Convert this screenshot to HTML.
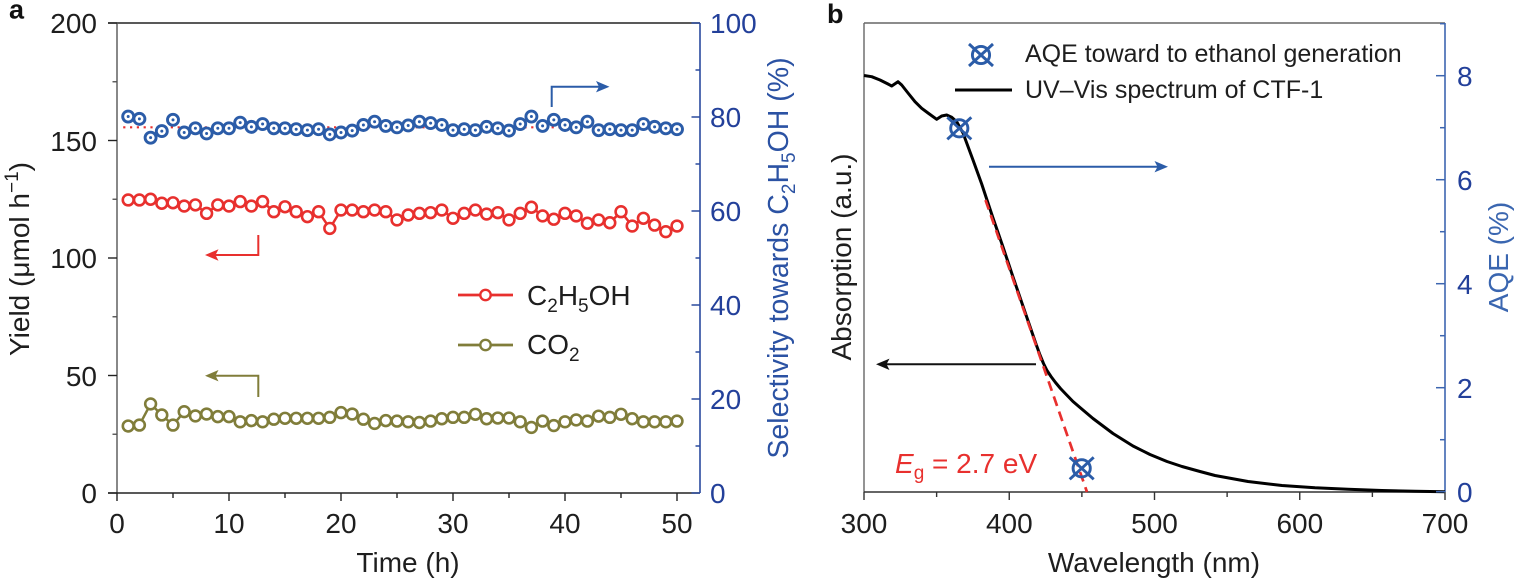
<!DOCTYPE html>
<html><head><meta charset="utf-8">
<style>
html,body{margin:0;padding:0;background:#fff;}
svg{display:block;}
text{font-family:"Liberation Sans",Arial,sans-serif;}
</style></head><body>
<svg id="s" width="1515" height="579" viewBox="0 0 1515 579" xmlns="http://www.w3.org/2000/svg">
<rect x="0" y="0" width="1515" height="579" fill="#fff"/>
<!-- panel labels -->
<text x="9" y="18.5" font-size="27" font-weight="bold" fill="#111">a</text>
<text x="827" y="23" font-size="27" font-weight="bold" fill="#111">b</text>

<!-- ===== PANEL A axes ===== -->
<g id="axA" fill="none" stroke-width="1.4">
<line x1="108" y1="23" x2="700" y2="23" stroke="#222"/>
<line x1="117" y1="23" x2="117" y2="493" stroke="#555"/>
<line x1="108" y1="493" x2="700" y2="493" stroke="#222"/>
<line x1="700" y1="23" x2="700" y2="493" stroke="#2a4a9e" stroke-width="1.6"/>
</g>
<g font-size="28" fill="#1e1e1e" text-anchor="end">
<text x="97" y="33">200</text>
<text x="97" y="151">150</text>
<text x="97" y="268">100</text>
<text x="97" y="386">50</text>
<text x="97" y="503">0</text>
</g>
<g font-size="28" fill="#1e1e1e" text-anchor="middle">
<text x="117" y="533">0</text>
<text x="229" y="533">10</text>
<text x="341" y="533">20</text>
<text x="453" y="533">30</text>
<text x="565" y="533">40</text>
<text x="677" y="533">50</text>
</g>
<g font-size="28" fill="#23409a">
<text x="710" y="33">100</text>
<text x="710" y="127">80</text>
<text x="710" y="221">60</text>
<text x="710" y="315">40</text>
<text x="710" y="409">20</text>
<text x="710" y="503">0</text>
</g>
<text x="408" y="572" font-size="28" fill="#1e1e1e" text-anchor="middle">Time (h)</text>
<text transform="translate(29,259) rotate(-90)" font-size="28" fill="#1e1e1e" text-anchor="middle">Yield (μmol h<tspan font-size="19" dy="-11">−1</tspan><tspan dy="11">)</tspan></text>
<text transform="translate(788,258) rotate(-90)" font-size="28.5" fill="#2b52a3" text-anchor="middle">Selectivity towards C<tspan font-size="19" dy="7">2</tspan><tspan dy="-7">H</tspan><tspan font-size="19" dy="7">5</tspan><tspan dy="-7">OH (%)</tspan></text>

<!-- arrows panel a -->
<path d="M551.7,107 V86.7 H599" fill="none" stroke="#2b5ca8" stroke-width="2"/>
<path d="M609.5,86.7 L596,81 L599,86.7 L596,92.4 Z" fill="#2b5ca8"/>
<path d="M258.3,235 V255 H215" fill="none" stroke="#e8302e" stroke-width="2"/>
<path d="M205,255 L218.5,249.3 L215.5,255 L218.5,260.7 Z" fill="#e8302e"/>
<path d="M258.3,397 V375.7 H215" fill="none" stroke="#807d3a" stroke-width="2"/>
<path d="M205,375.7 L218.5,370 L215.5,375.7 L218.5,381.4 Z" fill="#807d3a"/>

<!-- legend panel a -->
<line x1="458" y1="295" x2="513" y2="295" stroke="#e8302e" stroke-width="2.7"/>
<circle cx="485.5" cy="295" r="5.2" fill="#fff" stroke="#e8302e" stroke-width="2.4"/>
<text x="527" y="305" font-size="28" fill="#1e1e1e">C<tspan font-size="19" dy="7">2</tspan><tspan dy="-7">H</tspan><tspan font-size="19" dy="7">5</tspan><tspan dy="-7">OH</tspan></text>
<line x1="458" y1="345" x2="513" y2="345" stroke="#807d3a" stroke-width="2.7"/>
<circle cx="485.5" cy="345" r="5.2" fill="#fff" stroke="#807d3a" stroke-width="2.4"/>
<text x="527" y="354" font-size="28" fill="#1e1e1e">CO<tspan font-size="19" dy="7">2</tspan></text>

<g id="dataA"></g>

<!-- ===== PANEL B axes ===== -->
<g fill="none" stroke-width="1.4">
<line x1="864" y1="23" x2="1445" y2="23" stroke="#666"/>
<line x1="864" y1="23" x2="864" y2="492" stroke="#666"/>
<line x1="864" y1="492" x2="1445" y2="492" stroke="#333"/>
<line x1="1445" y1="23" x2="1445" y2="492" stroke="#3d66b0" stroke-width="1.6"/>
</g>
<g font-size="28" fill="#1e1e1e" text-anchor="middle">
<text x="864" y="533">300</text>
<text x="1009.3" y="533">400</text>
<text x="1154.5" y="533">500</text>
<text x="1299.8" y="533">600</text>
<text x="1445" y="533">700</text>
</g>
<g font-size="28" fill="#23409a">
<text x="1457" y="502">0</text>
<text x="1457" y="398">2</text>
<text x="1457" y="294">4</text>
<text x="1457" y="190">6</text>
<text x="1457" y="86">8</text>
</g>
<text x="1154" y="572" font-size="28" fill="#1e1e1e" text-anchor="middle">Wavelength (nm)</text>
<text transform="translate(851,257) rotate(-90)" font-size="28" fill="#1e1e1e" text-anchor="middle">Absorption (a.u.)</text>
<text transform="translate(1508,257) rotate(-90)" font-size="28" fill="#3a66b0" text-anchor="middle">AQE (%)</text>

<!-- UV-Vis curve -->
<path fill="none" stroke="#000" stroke-width="3" stroke-linejoin="round" d="M864,75.5 L871.7,76.7 L880,80 L888,84 L891.7,86 L898,81.7 L901.7,85 L908,93 L915,101.7 L921.7,108.3 L928,113 L936.7,119.3 L941.7,116 L946.7,115 L951.7,117.3 L956.7,121.7 L963,133 L966.7,143 L973,160 L981.7,184 L986,197 L993,218 L1003,247 L1013,277 L1025,312 L1036,344 L1040,355 L1043.5,363.5 L1047,370.5 L1051,376.5 L1055.5,382.5 L1060.5,388.5 L1066.7,395 L1073,401.5 L1080,407.5 L1093,418.5 L1113,433.5 L1133,446 L1150,454.5 L1167,461.5 L1182,466.5 L1200,471.5 L1215,475.5 L1248,481.5 L1282,485.5 L1315,487.8 L1348,489.3 L1382,490.5 L1415,491.3 L1445,491.8"/>
<!-- Eg dashed line -->
<line x1="985.5" y1="200" x2="1087" y2="492" stroke="#e8302e" stroke-width="2.7" stroke-dasharray="10 6"/>
<text x="895" y="473" font-size="28" fill="#e8302e"><tspan font-style="italic">E</tspan><tspan font-size="19" dy="6">g</tspan><tspan dy="-6"> = 2.7 eV</tspan></text>

<!-- arrows panel b -->
<path d="M989,166.7 H1158" fill="none" stroke="#2b5ca8" stroke-width="2"/>
<path d="M1168,166.7 L1154.5,161 L1157.5,166.7 L1154.5,172.4 Z" fill="#2b5ca8"/>
<path d="M1036,364.3 H886" fill="none" stroke="#111" stroke-width="2"/>
<path d="M876,364.3 L889.5,358.6 L886.5,364.3 L889.5,370 Z" fill="#111"/>

<!-- AQE markers -->
<g fill="none" stroke="#2b5ca8" stroke-width="2.9">
<circle cx="959.3" cy="128.3" r="8.6"/>
<path d="M947.3,117.3 L971.3,139.3 M971.3,117.3 L947.3,139.3"/>
<circle cx="1081.7" cy="468.3" r="8.6"/>
<path d="M1069.7,457.3 L1093.7,479.3 M1093.7,457.3 L1069.7,479.3"/>
<circle cx="981" cy="55" r="8.6"/>
<path d="M969,44 L993,66 M993,44 L969,66"/>
</g>
<!-- legend b -->
<text x="1025" y="62" font-size="25" fill="#1e1e1e">AQE toward to ethanol generation</text>
<line x1="955" y1="90" x2="1012" y2="90" stroke="#000" stroke-width="3"/>
<text x="1025" y="98" font-size="25" fill="#1e1e1e">UV–Vis spectrum of CTF-1</text>

<g id="ticks"></g>
</svg>
<script>
(function(){
var ns="http://www.w3.org/2000/svg";
function el(tag,a,p){var e=document.createElementNS(ns,tag);for(var k in a)e.setAttribute(k,a[k]);p.appendChild(e);return e;}
var T=document.getElementById("ticks");
function ln(x1,y1,x2,y2,c,w){el("line",{x1:x1,y1:y1,x2:x2,y2:y2,stroke:c,"stroke-width":w||1.4},T);}
for(var v=0;v<=200;v+=25){var y=493-2.35*v;ln(v%50==0?108:112.5,y,117,y,v%50==0?"#222":"#555");}
for(var h=0;h<=50;h+=5){var x=117+11.2*h;ln(x,493,x,h%10==0?501:498,"#222");}
for(var v=0;v<=100;v+=10){var y=493-4.7*v;ln(v%20==0?691.5:695.5,y,700,y,"#2a4a9e",1.5);}
for(var w=300;w<=700;w+=50){var x=864+1.4525*(w-300);ln(x,492,x,w%100==0?500:497,"#333");}
for(var v=0;v<=9;v+=1){var y=491.7-52*v;ln(v%2==0?1436:1440,y,1445,y,"#3d66b0",1.5);}

var G=document.getElementById("dataA");
function X(h){return 117+11.2*h;}
function YL(v){return 493-2.35*v;}
function YR(v){return 493-4.7*v;}
var blue=[80.1,79.6,75.6,77.0,79.4,76.7,77.6,76.5,77.6,77.6,78.8,77.9,78.5,77.6,77.6,77.4,77.2,77.4,76.3,76.7,77.1,78.3,79.0,78.1,77.8,78.2,79.0,78.7,78.3,77.2,77.4,77.2,77.9,77.6,77.1,78.5,80.1,78.1,79.4,78.3,77.8,79.0,77.2,77.4,77.2,77.2,78.5,77.9,77.6,77.4];
var red=[124.7,124.7,125.0,123.3,123.5,122.1,122.6,119.0,122.6,122.1,124.0,122.1,124.0,119.7,121.8,119.7,117.6,119.7,112.6,120.4,120.4,119.7,120.4,119.7,116.2,118.3,119.0,119.3,120.4,116.9,119.0,120.4,118.7,119.3,116.2,119.0,121.6,117.9,116.5,119.0,117.9,114.8,116.2,115.0,119.7,113.6,116.9,114.0,111.2,113.6];
var olive=[28.5,28.9,37.9,33.2,28.9,34.6,32.8,33.6,32.5,32.5,30.3,30.8,30.3,31.4,31.8,31.8,31.8,31.8,32.2,34.2,33.6,31.4,29.6,30.8,30.6,30.3,30.0,30.6,31.6,32.2,32.2,33.5,31.6,31.9,31.9,30.3,27.9,30.6,28.7,30.3,31.1,30.6,32.7,32.2,33.5,31.6,30.3,30.3,30.3,30.6];
el("line",{x1:X(1)-5,y1:127.3,x2:X(50)+5,y2:127.3,stroke:"#e8302e","stroke-width":2.2,"stroke-dasharray":"2.2 4.6"},G);
function series(arr,fy,col,line,dot){
  if(line){var p=[];for(var i=0;i<arr.length;i++)p.push(X(i+1).toFixed(1)+","+fy(arr[i]).toFixed(1));
    el("polyline",{points:p.join(" "),fill:"none",stroke:col,"stroke-width":2.5,"stroke-linejoin":"round"},G);}
  for(var i=0;i<arr.length;i++){var cx=X(i+1),cy=fy(arr[i]);
    el("circle",{cx:cx,cy:cy,r:dot?5.5:5.4,fill:"#fff",stroke:col,"stroke-width":dot?2.9:2.6},G);
    if(dot)el("circle",{cx:cx,cy:cy,r:1.5,fill:col},G);}
}
series(red,YL,"#e8302e",true,false);
series(olive,YL,"#807d3a",true,false);
series(blue,YR,"#2b5ca8",false,true);
})();
</script>
</body></html>
